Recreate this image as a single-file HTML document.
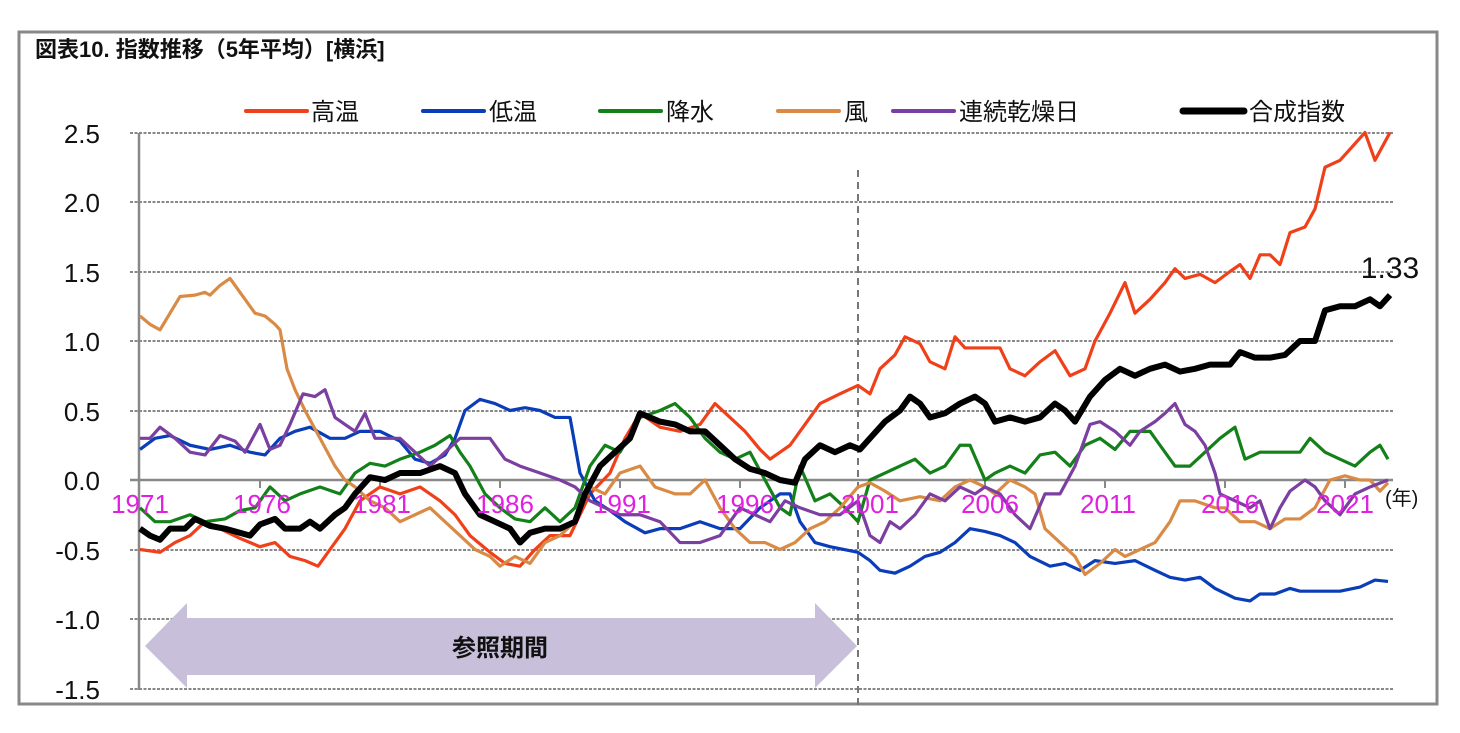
<!DOCTYPE html>
<html><head><meta charset="utf-8"><style>
body{margin:0;background:#fff;}
svg{display:block;font-family:"Liberation Sans","Noto Sans CJK JP",sans-serif;}
</style></head><body>
<svg width="1460" height="733" viewBox="0 0 1460 733" xmlns="http://www.w3.org/2000/svg">
<rect x="19" y="32" width="1418" height="672" fill="#fff" stroke="#888" stroke-width="3"/>
<text x="35" y="57" font-size="22" font-weight="bold" fill="#111">図表10. 指数推移（5年平均）[横浜]</text>
<g stroke-width="4" stroke-linecap="round">
<line x1="246" y1="111" x2="307" y2="111" stroke="#f0401a"/>
<line x1="423" y1="111" x2="484" y2="111" stroke="#0a3db8"/>
<line x1="600" y1="111" x2="661" y2="111" stroke="#14801a"/>
<line x1="778" y1="111" x2="839" y2="111" stroke="#d98a45"/>
<line x1="893" y1="111" x2="954" y2="111" stroke="#7a3fa0"/>
<line x1="1183" y1="111" x2="1244" y2="111" stroke="#000" stroke-width="7"/>
</g>
<g font-size="24" fill="#111">
<text x="311" y="120">高温</text><text x="489" y="120">低温</text><text x="666" y="120">降水</text>
<text x="844" y="120">風</text><text x="959" y="120">連続乾燥日</text><text x="1249" y="120">合成指数</text>
</g>
<g stroke="#888" stroke-width="2" stroke-dasharray="3,1.5">
<line x1="130" y1="133" x2="1393" y2="133"/><line x1="130" y1="202" x2="1393" y2="202"/>
<line x1="130" y1="272" x2="1393" y2="272"/><line x1="130" y1="341" x2="1393" y2="341"/>
<line x1="130" y1="411" x2="1393" y2="411"/><line x1="130" y1="550" x2="1393" y2="550"/>
<line x1="130" y1="619" x2="1393" y2="619"/><line x1="130" y1="689" x2="1393" y2="689"/>
</g>
<line x1="139" y1="133" x2="139" y2="690" stroke="#888" stroke-width="2.5"/>
<line x1="130" y1="480" x2="1393" y2="480" stroke="#888" stroke-width="2.5"/>
<g stroke="#888" stroke-width="2"><line x1="260" y1="480" x2="260" y2="488"/><line x1="380" y1="480" x2="380" y2="488"/><line x1="500" y1="480" x2="500" y2="488"/><line x1="620" y1="480" x2="620" y2="488"/><line x1="740" y1="480" x2="740" y2="488"/><line x1="985" y1="480" x2="985" y2="488"/><line x1="1105" y1="480" x2="1105" y2="488"/><line x1="1225" y1="480" x2="1225" y2="488"/><line x1="1345" y1="480" x2="1345" y2="488"/></g>
<line x1="858" y1="170" x2="858" y2="705" stroke="#777" stroke-width="2" stroke-dasharray="7,5"/>
<g font-size="26" fill="#111" text-anchor="end">
<text x="100" y="143">2.5</text><text x="100" y="212">2.0</text><text x="100" y="282">1.5</text>
<text x="100" y="351">1.0</text><text x="100" y="421">0.5</text><text x="100" y="490">0.0</text>
<text x="100" y="560">-0.5</text><text x="100" y="629">-1.0</text><text x="100" y="699">-1.5</text>
</g>
<polygon points="145,646 187,603 187,618 815,618 815,603 857,646 815,688 815,675 187,675 187,688" fill="#c8c0da"/>
<text x="500" y="656" font-size="24" font-weight="bold" fill="#111" text-anchor="middle">参照期間</text>
<g fill="none" stroke-linejoin="round" transform="translate(0,480) scale(1,-139)">
<polyline vector-effect="non-scaling-stroke" stroke="#f0401a" stroke-width="3.2" points="140,-0.5 160,-0.52 175,-0.45 190,-0.4 205,-0.3 220,-0.35 240,-0.42 260,-0.48 275,-0.45 290,-0.55 305,-0.58 318,-0.62 330,-0.5 345,-0.35 360,-0.15 380,-0.05 400,-0.1 420,-0.05 440,-0.15 455,-0.25 470,-0.4 490,-0.52 505,-0.6 520,-0.62 535,-0.5 550,-0.4 570,-0.4 590,-0.1 610,0.05 625,0.3 640,0.48 660,0.38 680,0.35 700,0.4 715,0.55 730,0.45 745,0.35 760,0.22 770,0.15 790,0.25 805,0.4 820,0.55 840,0.62 858,0.68 870,0.62 880,0.8 895,0.9 905,1.03 920,0.98 930,0.85 945,0.8 955,1.03 965,0.95 985,0.95 1000,0.95 1010,0.8 1025,0.75 1040,0.85 1055,0.93 1070,0.75 1085,0.8 1095,1.0 1110,1.2 1125,1.42 1135,1.2 1150,1.3 1165,1.42 1175,1.52 1185,1.45 1200,1.48 1215,1.42 1230,1.5 1240,1.55 1250,1.45 1260,1.62 1270,1.62 1280,1.55 1290,1.78 1305,1.82 1315,1.95 1325,2.25 1340,2.3 1350,2.38 1365,2.5 1375,2.3 1390,2.5"/>
<polyline vector-effect="non-scaling-stroke" stroke="#0a3db8" stroke-width="3.2" points="140,0.22 155,0.3 170,0.32 190,0.25 210,0.22 230,0.25 250,0.2 265,0.18 280,0.3 295,0.35 310,0.38 330,0.3 345,0.3 360,0.35 380,0.35 400,0.28 415,0.15 430,0.12 445,0.18 455,0.3 465,0.5 480,0.58 495,0.55 510,0.5 525,0.52 540,0.5 555,0.45 570,0.45 580,0.05 595,-0.15 610,-0.22 625,-0.3 645,-0.38 660,-0.35 680,-0.35 700,-0.3 720,-0.35 740,-0.35 760,-0.2 780,-0.1 790,-0.1 800,-0.3 815,-0.45 830,-0.48 858,-0.52 870,-0.58 880,-0.65 895,-0.67 910,-0.62 925,-0.55 940,-0.52 955,-0.45 970,-0.35 985,-0.37 1000,-0.4 1015,-0.45 1030,-0.55 1050,-0.62 1065,-0.6 1080,-0.65 1095,-0.58 1115,-0.6 1135,-0.58 1155,-0.65 1170,-0.7 1185,-0.72 1200,-0.7 1215,-0.78 1235,-0.85 1250,-0.87 1260,-0.82 1275,-0.82 1290,-0.78 1300,-0.8 1320,-0.8 1340,-0.8 1360,-0.77 1375,-0.72 1388,-0.73"/>
<polyline vector-effect="non-scaling-stroke" stroke="#14801a" stroke-width="3.2" points="140,-0.2 155,-0.3 170,-0.3 190,-0.25 205,-0.3 225,-0.28 240,-0.22 255,-0.2 270,-0.05 285,-0.15 300,-0.1 320,-0.05 340,-0.1 355,0.05 370,0.12 385,0.1 400,0.15 420,0.2 435,0.25 450,0.32 460,0.2 470,0.1 485,-0.1 500,-0.2 515,-0.28 530,-0.3 545,-0.2 560,-0.3 575,-0.2 590,0.1 605,0.25 620,0.2 640,0.45 660,0.5 675,0.55 690,0.45 705,0.3 720,0.2 735,0.15 750,0.2 765,0.0 780,-0.2 790,-0.25 800,0.1 815,-0.15 830,-0.1 845,-0.2 858,-0.3 870,0.0 885,0.05 900,0.1 915,0.15 930,0.05 945,0.1 960,0.25 970,0.25 985,0.0 995,0.05 1010,0.1 1025,0.05 1040,0.18 1055,0.2 1070,0.1 1085,0.25 1100,0.3 1115,0.22 1130,0.35 1150,0.35 1160,0.25 1175,0.1 1190,0.1 1205,0.2 1220,0.3 1235,0.38 1245,0.15 1260,0.2 1280,0.2 1300,0.2 1310,0.3 1325,0.2 1340,0.15 1355,0.1 1370,0.2 1380,0.25 1388,0.15"/>
<polyline vector-effect="non-scaling-stroke" stroke="#d98a45" stroke-width="3.2" points="140,1.18 150,1.12 160,1.08 170,1.2 180,1.32 195,1.33 205,1.35 210,1.33 220,1.4 230,1.45 240,1.35 255,1.2 265,1.18 275,1.12 280,1.08 287,0.8 295,0.65 305,0.5 320,0.3 335,0.1 345,0.0 355,-0.05 370,-0.15 385,-0.2 400,-0.3 415,-0.25 430,-0.2 445,-0.3 460,-0.4 475,-0.5 490,-0.55 500,-0.62 515,-0.55 530,-0.6 545,-0.45 560,-0.4 575,-0.3 590,-0.05 605,-0.1 620,0.05 640,0.1 655,-0.05 675,-0.1 690,-0.1 705,0.0 720,-0.2 735,-0.35 750,-0.45 765,-0.45 780,-0.5 795,-0.45 810,-0.35 825,-0.3 840,-0.2 858,-0.05 870,-0.02 885,-0.08 900,-0.15 920,-0.12 940,-0.15 955,-0.05 970,0.0 985,-0.05 995,-0.1 1010,0.0 1025,-0.05 1035,-0.1 1045,-0.35 1060,-0.45 1075,-0.55 1085,-0.68 1100,-0.6 1115,-0.5 1125,-0.55 1140,-0.5 1155,-0.45 1170,-0.3 1180,-0.15 1195,-0.15 1215,-0.2 1225,-0.2 1240,-0.3 1255,-0.3 1270,-0.35 1285,-0.28 1300,-0.28 1315,-0.2 1330,0.0 1345,0.03 1360,0.0 1370,0.0 1380,-0.08 1388,-0.02"/>
<polyline vector-effect="non-scaling-stroke" stroke="#7a3fa0" stroke-width="3.2" points="140,0.3 150,0.3 160,0.38 175,0.3 190,0.2 205,0.18 220,0.32 235,0.28 245,0.2 260,0.4 270,0.22 280,0.25 290,0.4 303,0.62 315,0.6 325,0.65 335,0.45 345,0.4 355,0.35 365,0.48 375,0.3 385,0.3 400,0.3 415,0.2 430,0.1 445,0.2 460,0.3 475,0.3 490,0.3 505,0.15 520,0.1 540,0.05 560,0.0 575,-0.05 590,-0.15 605,-0.2 620,-0.25 640,-0.25 660,-0.3 680,-0.45 700,-0.45 720,-0.4 740,-0.2 755,-0.25 770,-0.3 785,-0.15 800,-0.2 820,-0.25 840,-0.25 858,-0.15 870,-0.4 880,-0.45 890,-0.3 900,-0.35 915,-0.25 930,-0.1 945,-0.15 960,-0.05 975,-0.1 985,-0.05 1000,-0.1 1015,-0.25 1030,-0.35 1045,-0.1 1060,-0.1 1075,0.1 1090,0.4 1100,0.42 1115,0.35 1130,0.25 1140,0.35 1155,0.42 1165,0.48 1175,0.55 1185,0.4 1195,0.35 1205,0.25 1215,0.05 1220,-0.1 1235,-0.15 1250,-0.2 1260,-0.15 1270,-0.35 1280,-0.2 1290,-0.08 1305,0.0 1315,-0.05 1325,-0.15 1340,-0.25 1355,-0.1 1370,-0.05 1388,0.0"/>
<polyline vector-effect="non-scaling-stroke" stroke="#000" stroke-width="6" points="140,-0.35 150,-0.4 160,-0.43 170,-0.35 185,-0.35 195,-0.28 210,-0.33 225,-0.35 240,-0.38 250,-0.4 260,-0.32 275,-0.28 285,-0.35 300,-0.35 310,-0.3 320,-0.35 335,-0.25 345,-0.2 355,-0.1 370,0.02 385,0.0 400,0.05 420,0.05 440,0.1 455,0.05 465,-0.1 480,-0.25 495,-0.3 510,-0.35 520,-0.45 530,-0.38 545,-0.35 560,-0.35 575,-0.3 585,-0.1 600,0.1 615,0.2 630,0.3 640,0.48 660,0.42 675,0.4 690,0.35 705,0.35 720,0.25 735,0.15 750,0.08 765,0.05 780,0.0 795,-0.02 805,0.15 820,0.25 835,0.2 850,0.25 860,0.22 870,0.3 885,0.42 900,0.5 910,0.6 920,0.55 930,0.45 945,0.48 960,0.55 975,0.6 985,0.55 995,0.42 1010,0.45 1025,0.42 1040,0.45 1055,0.55 1065,0.5 1075,0.42 1090,0.6 1105,0.72 1120,0.8 1135,0.75 1150,0.8 1165,0.83 1180,0.78 1195,0.8 1210,0.83 1230,0.83 1240,0.92 1255,0.88 1270,0.88 1285,0.9 1300,1.0 1315,1.0 1325,1.22 1340,1.25 1355,1.25 1370,1.3 1380,1.25 1390,1.33"/>
</g>
<g font-size="26" fill="#e020e0" text-anchor="middle">
<text x="140" y="513">1971</text><text x="262" y="513">1976</text><text x="382" y="513">1981</text>
<text x="505" y="513">1986</text><text x="622" y="513">1991</text><text x="745" y="513">1996</text>
<text x="870" y="513">2001</text><text x="990" y="513">2006</text><text x="1108" y="513">2011</text>
<text x="1230" y="513">2016</text><text x="1345" y="513">2021</text>
</g>
<text x="1385" y="505" font-size="20" fill="#111">(年)</text>
<text x="1390" y="278" font-size="30" fill="#111" text-anchor="middle">1.33</text>
</svg>
</body></html>
